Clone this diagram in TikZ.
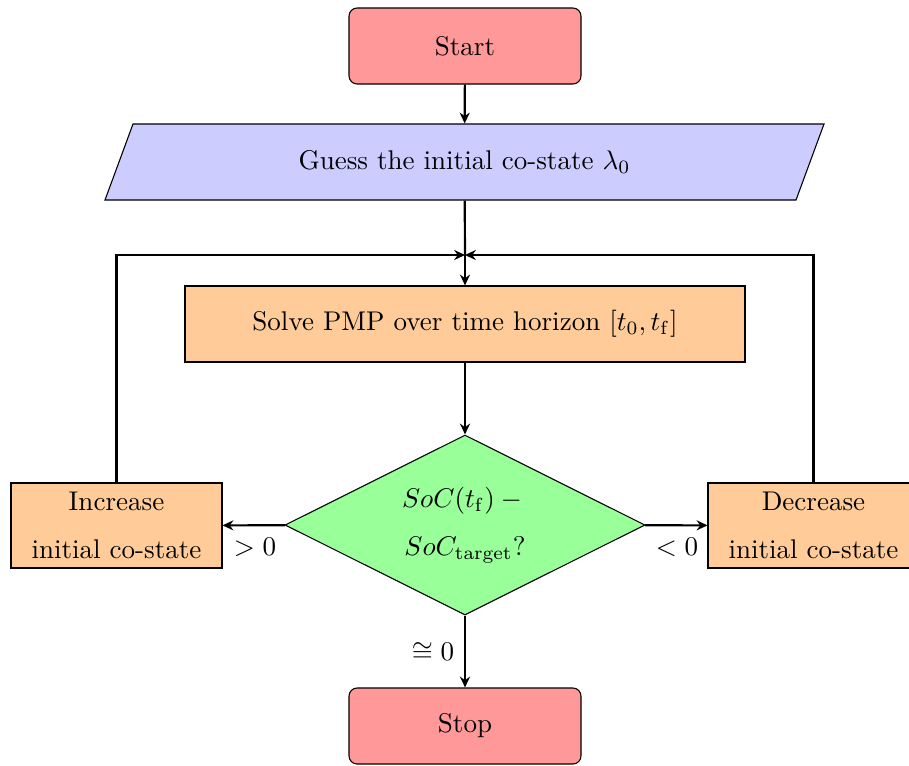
\documentclass[tikz,border=0pt]{standalone}
\usepackage{amsmath,amssymb}
\usetikzlibrary{shapes.geometric,arrows.meta}
\tikzset{
  base/.style={draw=black, thin, inner sep=0pt, align=center},
  termbox/.style={base, rounded corners=3pt, fill=red!40, minimum width=232*0.013cm, minimum height=76*0.013cm},
  iotext/.style={inner sep=0pt, align=center, minimum width=691*0.013cm, minimum height=76*0.013cm},
  iofill/.style={draw=black, thin, fill=blue!20},
  procbox/.style={base, fill=orange!40, minimum width=560*0.013cm, minimum height=76*0.013cm},
  sidebox/.style={base, fill=orange!40, minimum width=211*0.013cm, minimum height=85*0.013cm},
  decbox/.style={base, diamond, aspect=2, fill=green!40, minimum width=360*0.013cm, minimum height=180*0.013cm},
  conn/.style={thick, -{Stealth[length=4pt,width=3.7pt]}},
  lbl/.style={inner sep=0pt}
}
\begin{document}
\begin{tikzpicture}[x=0.013cm,y=-0.013cm]
\useasboundingbox (0,0) rectangle (909,765);
\node[termbox] (start) at (465,46) {Start};
\coordinate (gtl) at (133,124);
\coordinate (gtr) at (824,124);
\coordinate (gbr) at (796,200);
\coordinate (gbl) at (105,200);
\filldraw[iofill] (gtl) -- (gtr) -- (gbr) -- (gbl) -- cycle;
\node[iotext] (guess) at (464.5,162) {Guess the initial co-state $\lambda_0$};
\node[procbox] (solve) at (465,324) {Solve PMP over time horizon $[t_0, t_{\mathrm{f}}]$};
\node[decbox] (dec) at (465,525) {$SoC(t_{\mathrm{f}})-{}$\\[5.8pt]$SoC_{\mathrm{target}}?$};
\node[sidebox] (inc) at (116.5,525.5) {Increase\\[5.8pt]initial co-state};
\node[sidebox] (decr) at (813.5,525.5) {Decrease\\[5.8pt]initial co-state};
\node[termbox] (stop) at (465,726) {Stop};
\coordinate (j) at (465,255);
\coordinate (jl) at (116.5,255);
\coordinate (jr) at (813.5,255);
\draw[conn] (start) -- (guess);
\draw[thick] (guess) -- (j);
\draw[conn] (j) -- (solve);
\draw[conn] (solve) -- (dec);
\draw[conn] (dec) -- (inc);
\draw[conn] (dec) -- (decr);
\draw[conn] (dec) -- (stop);
\draw[conn] (inc.north) -- (jl) -- (j);
\draw[conn] (decr.north) -- (jr) -- (j);
\node[lbl] (gt) at (255,547) {$>0$};
\node[lbl] (lt) at (677,547) {$<0$};
\node[lbl] (eq) at (433,652) {$\cong 0$};
\end{tikzpicture}
\end{document}
